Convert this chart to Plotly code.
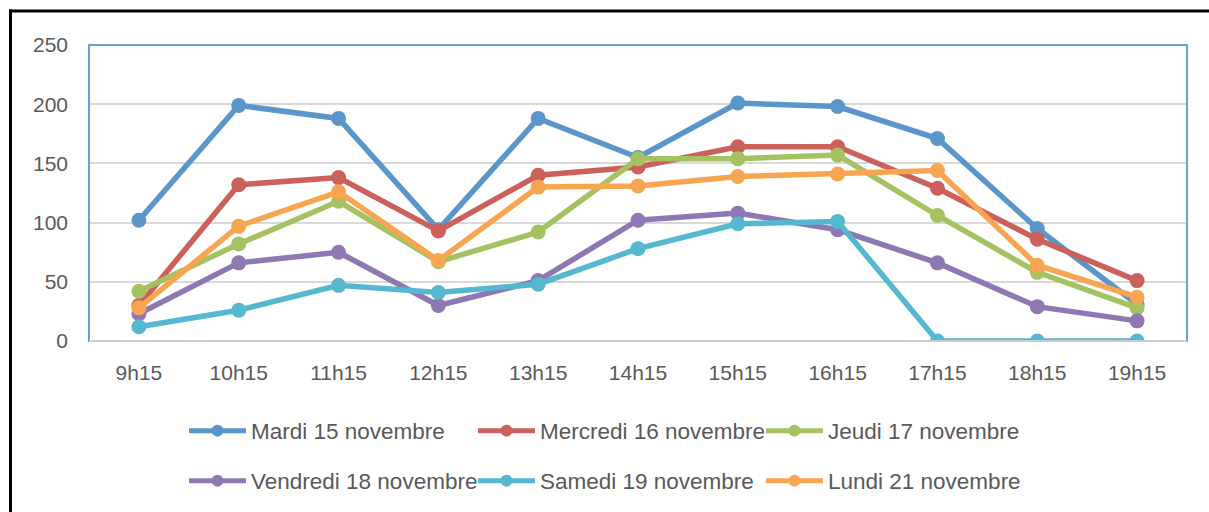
import plotly.graph_objects as go

categories = ["9h15", "10h15", "11h15", "12h15", "13h15", "14h15", "15h15", "16h15", "17h15", "18h15", "19h15"]

mardi = [102, 199, 188, 94, 188, 155, 201, 198, 171, 95, 31]
mercredi = [30, 132, 138, 93, 140, 147, 164, 164, 129, 86, 51]
jeudi = [42, 82, 118, 67, 92, 154, 154, 157, 106, 58, 28]
vendredi = [23, 66, 75, 30, 51, 102, 108, 94, 66, 29, 17]
samedi = [12, 26, 47, 41, 48, 78, 99, 101, 0, 0, 0]
lundi = [28, 97, 126, 68, 130, 131, 139, 141, 144, 64, 37]

series_names = ["Mardi 15 novembre", "Mercredi 16 novembre", "Jeudi 17 novembre",
                "Vendredi 18 novembre", "Samedi 19 novembre", "Lundi 21 novembre"]
series_values = [mardi, mercredi, jeudi, vendredi, samedi, lundi]
colors = ["#5B96CB", "#CC605A", "#A4C262", "#8E78B4", "#55B8D0", "#F8A552"]

W, H = 1209, 512
ML, MR, MT, MB = 89, 22, 45, 171
PW, PH = W - ML - MR, H - MT - MB

# legend slot positions (pixels): column left edges and row centres
legend_cols = [184, 473, 761]
legend_rows = [431, 481]
legend_ids = ["legend", "legend2", "legend3", "legend4", "legend5", "legend6"]

fig = go.Figure()
for name, vals, col, lg in zip(series_names, series_values, colors, legend_ids):
    fig.add_trace(go.Scatter(
        x=categories, y=vals, name=name, mode="lines+markers",
        line=dict(color=col, width=5.5),
        marker=dict(color=col, size=15),
        legend=lg,
    ))

font_color = "#595959"
font_family = "Liberation Sans, Arial, sans-serif"

def px_x(px):
    return (px - ML) / PW

def px_y(py):
    return (H - MB - py) / PH

shapes = [
    dict(type="rect", xref="paper", yref="paper", x0=0, y0=0, x1=1, y1=1,
         line=dict(color="#6A9FD4", width=2), layer="above"),
    dict(type="line", xref="paper", yref="paper", x0=0, y0=0, x1=1, y1=0,
         line=dict(color="#C8CDD3", width=2), layer="above"),
    dict(type="line", xref="paper", yref="paper", x0=px_x(10.5), y0=px_y(9.5), x1=px_x(10.5), y1=px_y(H + 5),
         line=dict(color="#000000", width=3)),
    dict(type="line", xref="paper", yref="paper", x0=px_x(9), y0=px_y(11), x1=px_x(W + 5), y1=px_y(11),
         line=dict(color="#000000", width=3)),
]

legend_common = dict(
    orientation="h", xref="container", yref="container",
    xanchor="left", yanchor="middle",
    font=dict(family=font_family, size=22.5, color=font_color),
    itemwidth=57, itemsizing="constant",
    bgcolor="rgba(0,0,0,0)", borderwidth=0,
)

legends = {}
for i, lg in enumerate(legend_ids):
    r, c = divmod(i, 3)
    legends[lg] = dict(legend_common, x=legend_cols[c] / W, y=1 - legend_rows[r] / H)

fig.update_layout(
    width=W, height=H,
    margin=dict(l=ML, r=MR, t=MT, b=MB),
    paper_bgcolor="white", plot_bgcolor="white",
    font=dict(family=font_family, size=21, color=font_color),
    showlegend=True,
    xaxis=dict(
        type="category", range=[-0.5, 10.5], showgrid=False, zeroline=False,
        showline=False, ticks="", ticklabelstandoff=17,
        tickfont=dict(family=font_family, size=21, color=font_color),
    ),
    yaxis=dict(
        range=[0, 250], dtick=50, tick0=0, showgrid=True, gridcolor="#D9D9D9", gridwidth=2,
        zeroline=False, showline=False, ticks="", ticklabelstandoff=20,
        tickfont=dict(family=font_family, size=21, color=font_color),
    ),
    shapes=shapes,
    **legends,
)

fig.write_html("out.html", config={"displayModeBar": False},
               post_script="document.body.style.margin='0px';")
